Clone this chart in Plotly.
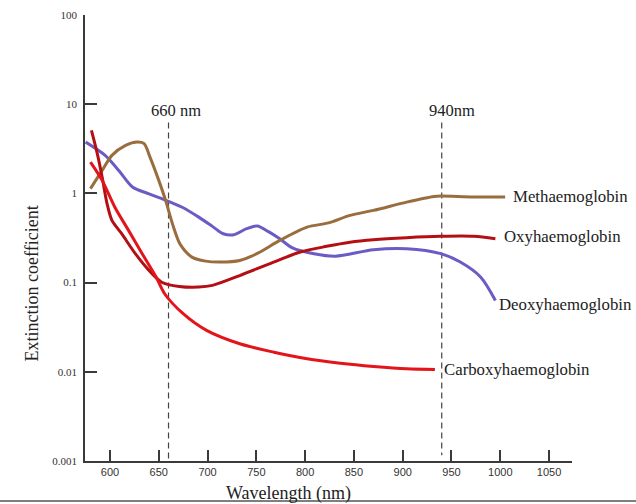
import math
import plotly.graph_objects as go

# Wavelength (nm) / extinction coefficient values
deoxy_wl = [575, 595, 609, 623, 640, 655, 674, 691, 705, 716, 727, 740, 751, 762, 774, 787, 809, 831, 870, 904, 939, 959, 980, 995]
deoxy_val = [3.76, 2.67, 1.81, 1.18, 0.99, 0.857, 0.70, 0.542, 0.427, 0.353, 0.344, 0.402, 0.432, 0.375, 0.31, 0.245, 0.211, 0.198, 0.234, 0.24, 0.211, 0.17, 0.115, 0.063]

meth_wl = [580, 592, 602, 616, 628, 635, 641, 650, 657, 664, 672, 684, 698, 713, 733, 752, 774, 802, 824, 846, 870, 904, 932, 939, 973, 1005]
meth_val = [1.13, 1.81, 2.67, 3.45, 3.76, 3.61, 2.55, 1.40, 0.835, 0.457, 0.268, 0.193, 0.174, 0.17, 0.177, 0.215, 0.297, 0.419, 0.467, 0.567, 0.645, 0.799, 0.925, 0.933, 0.91, 0.91]

oxy_wl = [581, 587, 592, 597, 602, 612, 626, 640, 653, 671, 691, 705, 733, 762, 795, 822, 846, 870, 904, 939, 973, 995]
oxy_val = [5.08, 2.79, 1.52, 0.767, 0.498, 0.353, 0.211, 0.137, 0.101, 0.0906, 0.089, 0.093, 0.12, 0.16, 0.22, 0.255, 0.284, 0.303, 0.319, 0.33, 0.33, 0.31]

carboxy_wl = [580, 592, 605, 619, 633, 647, 656, 675, 699, 733, 768, 802, 836, 870, 904, 933]
carboxy_val = [2.24, 1.40, 0.70, 0.385, 0.211, 0.117, 0.075, 0.0448, 0.0291, 0.0206, 0.0166, 0.014, 0.0125, 0.0115, 0.0108, 0.0106]

x_ticks = [600, 650, 700, 750, 800, 850, 900, 950, 1000, 1050]
y_ticks = [0.001, 0.01, 0.1, 1, 10, 100]
y_tick_labels = ["0.001", "0.01", "0.1", "1", "10", "100"]

markers = [660, 940]
marker_labels = ["660 nm", "940nm"]

SERIF = "Liberation Serif"
AXIS = "#3a3a3a"
TEXT = "#222"

fig = go.Figure()

# dashed reference lines
fig.add_trace(go.Scatter(x=[markers[0], markers[0]], y=[6.25, 0.001], mode="lines",
                         line=dict(color="#444", width=1.2, dash="6px,4px"), hoverinfo="skip", showlegend=False))
fig.add_trace(go.Scatter(x=[markers[1], markers[1]], y=[6.25, 0.00116], mode="lines",
                         line=dict(color="#444", width=1.2, dash="6px,4px"), hoverinfo="skip", showlegend=False))

series = [
    ("Deoxyhaemoglobin", deoxy_wl, deoxy_val, "#6b5bc4"),
    ("Methaemoglobin", meth_wl, meth_val, "#9a6d3f"),
    ("Oxyhaemoglobin", oxy_wl, oxy_val, "#b30f14"),
    ("Carboxyhaemoglobin", carboxy_wl, carboxy_val, "#e3151b"),
]
for name, xs, ys, c in series:
    fig.add_trace(go.Scatter(x=xs, y=ys, mode="lines", name=name,
                             line=dict(color=c, width=3, shape="spline", smoothing=0.8),
                             showlegend=False))

label_pos = {
    "Methaemoglobin": (1011, 0.93),
    "Oxyhaemoglobin": (1002, 0.33),
    "Deoxyhaemoglobin": (997, 0.057),
    "Carboxyhaemoglobin": (940, 0.0107),
}
for name, (lx, ly) in label_pos.items():
    fig.add_annotation(x=lx, y=math.log10(ly), text=name, showarrow=False,
                       xanchor="left", yanchor="middle",
                       font=dict(family=SERIF, size=16.8, color=TEXT))

for m, t in zip(markers, marker_labels):
    fig.add_annotation(x=m + 8 if m == 660 else m + 11, y=math.log10(8.6), text=t, showarrow=False,
                       xanchor="center", yanchor="middle",
                       font=dict(family=SERIF, size=16.5, color=TEXT))

# axis titles placed as in the reference (off-centre)
fig.add_annotation(xref="paper", yref="paper", x=0.417, y=-0.072, text="Wavelength (nm)",
                   showarrow=False, xanchor="center", yanchor="middle",
                   font=dict(family=SERIF, size=18, color=TEXT))
fig.add_annotation(xref="paper", yref="paper", x=-0.108, y=0.399, text="Extinction coefficient",
                   showarrow=False, xanchor="center", yanchor="middle", textangle=-90,
                   font=dict(family=SERIF, size=18, color=TEXT))

# bottom border line
fig.add_shape(type="line", xref="paper", yref="paper", x0=-0.2, x1=1.2, y0=-0.0897, y1=-0.0897,
              line=dict(color="#555", width=1.5))

fig.update_layout(
    width=636, height=504,
    margin=dict(l=85, r=64, t=15, b=43, autoexpand=False),
    plot_bgcolor="white", paper_bgcolor="white",
    showlegend=False,
    xaxis=dict(range=[574.4, 1073.5], tickvals=x_ticks, ticks="inside", ticklen=11,
               tickcolor=AXIS, tickwidth=1.5, showline=True, linecolor=AXIS, linewidth=1.5,
               showgrid=False, zeroline=False, automargin=False,
               tickfont=dict(family="Liberation Sans", size=11, color="#333")),
    yaxis=dict(type="log", range=[-3, 2], tickvals=y_ticks, ticktext=y_tick_labels,
               ticks="inside", ticklen=12, tickcolor=AXIS, tickwidth=1.5,
               showline=True, linecolor=AXIS, linewidth=1.5, showgrid=False, zeroline=False,
               automargin=False, ticklabelstandoff=4,
               tickfont=dict(family=SERIF, size=11, color="#333")),
)

fig.write_html("out.html", config={"displayModeBar": False},
               post_script="document.body.style.margin='0';document.body.style.overflow='hidden';")
